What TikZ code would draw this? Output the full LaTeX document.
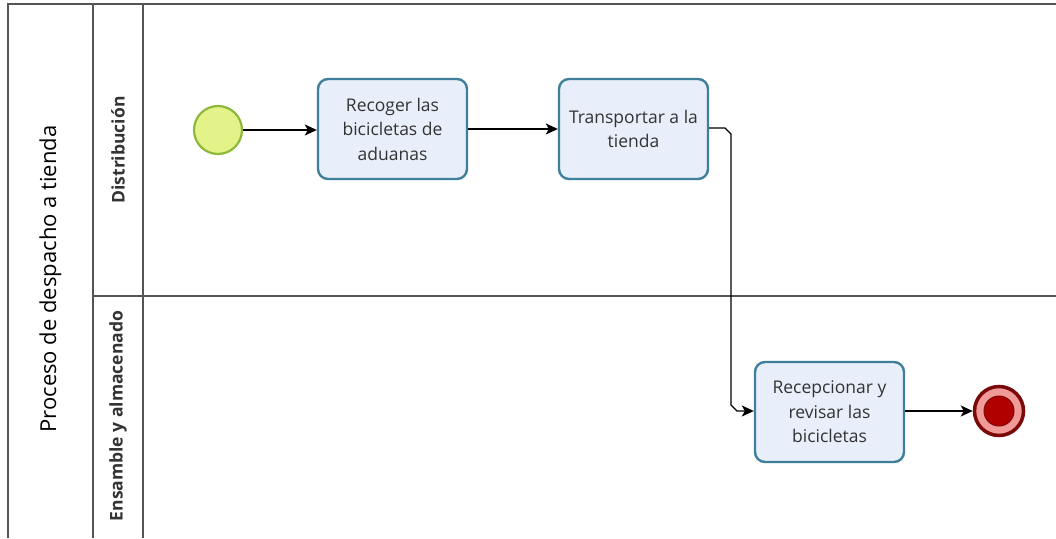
\documentclass[tikz,border=0pt]{standalone}
\usepackage{fontspec}
\setmainfont{Open Sans}
\usetikzlibrary{arrows.meta}
\definecolor{taskfill}{HTML}{E8EFFA}
\definecolor{taskdraw}{HTML}{3F7F99}
\definecolor{startfill}{HTML}{E4F28A}
\definecolor{startdraw}{HTML}{8DB83A}
\definecolor{endring}{HTML}{7A0A0A}
\definecolor{endfill}{HTML}{F29A98}
\definecolor{endcore}{HTML}{B00000}
\definecolor{txt}{HTML}{333333}
\definecolor{pooldraw}{HTML}{555555}
\tikzset{
  task/.style={draw=taskdraw, line width=2.4pt, fill=taskfill, rounded corners=10pt,
    minimum width=149pt, minimum height=100pt, align=center, text=txt,
    font=\fontsize{17.5}{24.5}\selectfont, inner sep=2pt},
  startev/.style={circle, draw=startdraw, line width=2.2pt, fill=startfill, minimum size=48pt, inner sep=0pt},
  endev/.style={circle, draw=endring, line width=3.5pt, fill=endfill, minimum size=49pt, inner sep=0pt},
  endcoreev/.style={circle, draw=endring, line width=1pt, fill=endcore, minimum size=30pt, inner sep=0pt},
  flow/.style={draw=black, line width=1.3pt, -{Stealth[length=12pt, width=11pt, inset=3pt]}},
  frame/.style={draw=pooldraw, line width=1.2pt},
  lanelabel/.style={rotate=90, font=\bfseries\fontsize{17.5}{20}\selectfont, text=txt},
  poollabel/.style={rotate=90, font=\fontsize{22}{26}\selectfont, text=black}
}
\begin{document}
\begin{tikzpicture}[x=1pt, y=-1pt]
\useasboundingbox (0,0) rectangle (1056,538);
\fill[white] (0,0) rectangle (1056,538);
% pool and lane frame
\draw[frame] (8,538) -- (8,4) -- (1056,4);
\draw[frame] (93,4) -- (93,538);
\draw[frame] (143,4) -- (143,538);
\draw[frame] (93,296) -- (1056,296);
\node[poollabel] (pool) at (50.5,279) {Proceso de despacho a tienda};
\node[lanelabel] (lane1) at (118,150) {Distribución};
\node[lanelabel] (lane2) at (118,416) {Ensamble y almacenado};
% events and tasks
\node[startev] (start) at (218,130) {};
\node[task] (t1) at (392.5,129) {Recoger las\\bicicletas de\\aduanas};
\node[task] (t2) at (633.5,129) {Transportar a la\\tienda};
\node[task] (t3) at (829.5,412) {Recepcionar y\\revisar las\\bicicletas};
\node[endev] (end) at (999,411) {};
\node[endcoreev] (endc) at (end.center) {};
% sequence flows
\draw[flow] (start) -- (start -| t1.west);
\draw[flow] (t1) -- (t2);
\draw[flow] (t2.east |- 0,128) -- (725,128) -- (731,134) -- (731,405) -- (737,411) -- (t3.west |- 0,411);
\draw[flow] (t3.east |- end) -- (end);
\end{tikzpicture}
\end{document}
